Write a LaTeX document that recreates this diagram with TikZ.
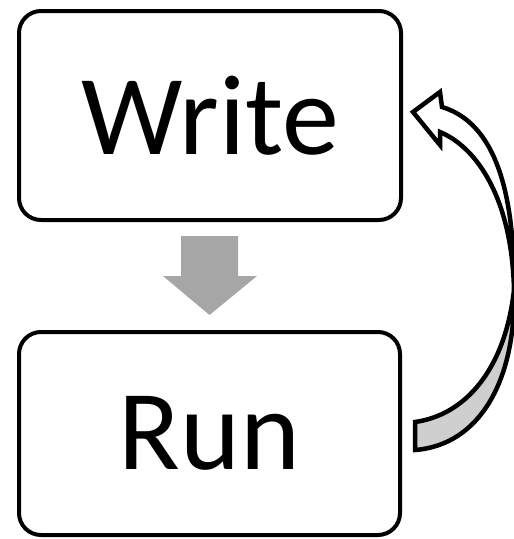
\documentclass[tikz,border=0pt]{standalone}
\usepackage{fontspec}
\setmainfont{Carlito}
\usetikzlibrary{calc}
\definecolor{blockgray}{HTML}{A6A6A6}
\definecolor{backgray}{HTML}{CFCFCF}
\tikzset{
  stepbox/.style={draw=black, line width=4pt, rounded corners=22pt, fill=white,
    inner sep=0pt, font=\fontsize{114}{114}\selectfont},
  ribbon/.style={draw=black, line width=4.5pt, line join=miter},
}
\begin{document}
\begin{tikzpicture}[x=1pt,y=-1pt]
\useasboundingbox (0,0) rectangle (514,539);
\node[stepbox, minimum width=382pt, minimum height=209pt] (write) at (210,115.5) {Write};
\node[stepbox, minimum width=381pt, minimum height=203pt] (run) at (209.5,433.5) {Run};
% down block arrow
\fill[blockgray] (181,236) -- (238,236) -- (238,276) -- (257,276) -- (209.5,315)
  -- (163,276) -- (181,276) -- cycle;
% curved arrow (back face, lower part)
\coordinate (tailtop) at (415,422);
\coordinate (tailbot) at (415,450);
\coordinate (cross) at (514,290);
\draw[ribbon, fill=backgray] (tailtop) .. controls (465,415) and (505,370) .. (cross)
  .. controls (516,380) and (480,445) .. (tailbot) -- cycle;
% front face with head
\draw[ribbon, fill=white] (442,107) .. controls (485,120) and (515,170) .. (cross)
  .. controls (512,200) and (478,148) .. (440,132)
  -- (440,145) -- (413,112) -- (440,92) -- cycle;
\end{tikzpicture}
\end{document}
